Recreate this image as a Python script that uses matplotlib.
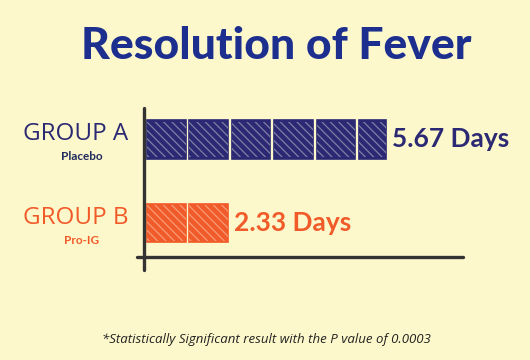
import matplotlib.pyplot as plt
import numpy as np

groups = ["GROUP A", "GROUP B"]
subgroups = ["Placebo", "Pro-IG"]
days = [5.67, 2.33]
value_labels = ["5.67 Days", "2.33 Days"]
title = "Resolution of Fever"
footnote = "*Statistically Significant result with the P value of 0.0003"

navy = "#2B2973"
orange = "#F15A29"
colors = [navy, orange]
bg = "#FCF8CB"

W, H = 530, 360
fig = plt.figure(figsize=(W / 100, H / 100), dpi=100)
fig.patch.set_facecolor(bg)

unit_px = 42.4
ax_l, ax_r, ax_t, ax_b = 144, 463, 108, 257
ax = fig.add_axes([ax_l / W, 1 - ax_b / H, (ax_r - ax_l) / W, (ax_b - ax_t) / H])
ax.set_facecolor("none")
ax.set_xlim(0, (ax_r - ax_l) / unit_px)
ax.set_ylim(-0.407, 1.377)
for s in ax.spines.values():
    s.set_visible(False)
ax.set_xticks([])
ax.set_yticks([])

plt.rcParams["hatch.linewidth"] = 0.9
ypos = [1, 0]
offset = 0.07
unit_w = 0.91
bar_h = 0.465
for y, d, c, lab in zip(ypos, days, colors, value_labels):
    n_full = int(np.floor(d))
    frac = d - n_full
    lefts = list(offset + np.arange(n_full))
    widths = [unit_w] * n_full
    if frac >= 0.5:
        lefts.append(offset + n_full)
        widths.append(frac * unit_w + 0.03)
    ys = [y] * len(lefts)
    ax.barh(ys, widths, left=lefts, height=bar_h, color=c, edgecolor=c, linewidth=1.2)
    ax.barh(ys, widths, left=lefts, height=bar_h * 0.92, facecolor="none",
            edgecolor=(1, 1, 0.92, 0.4), hatch="\\\\\\\\", linewidth=0)
    end = lefts[-1] + widths[-1]
    ax.annotate(lab, xy=(end, y), xytext=(6, 0), textcoords="offset pixels",
                ha="left", va="center", fontsize=19, fontweight="bold",
                family="Lato", color=c, annotation_clip=False)

# group labels
for y, g, sg, c in zip(ypos, groups, subgroups, colors):
    ax.annotate(g, xy=(0, y), xytext=(-68, 5), textcoords="offset pixels",
                ha="center", va="center", fontsize=17.5, family="Open Sans",
                color=c, annotation_clip=False)
    ax.annotate(sg, xy=(0, y), xytext=(-62, -17), textcoords="offset pixels",
                ha="center", va="center", fontsize=8.5, fontweight="bold",
                family="Lato", color="#1F2A5E" if c == navy else orange,
                annotation_clip=False)

# sketchy axes
ax.plot([0, 0], [-0.56, 1.377], color="#333333",
        lw=2.4, clip_on=False, solid_capstyle="round")
ax.plot([-7 / unit_px, (ax_r - ax_l) / unit_px], [-0.407, -0.407], color="#333333",
        lw=2.4, clip_on=False, solid_capstyle="round")

fig.text(276 / W, 1 - 46 / H, title, ha="center", va="center", fontsize=32,
         fontweight="black", family="Lato", color="#1C2F8F")
fig.text(266 / W, 1 - 340 / H, footnote, ha="center", va="center", fontsize=9.5,
         style="italic", family="Open Sans", color="#222222")

fig.savefig("out.png", dpi=100, facecolor=bg)
